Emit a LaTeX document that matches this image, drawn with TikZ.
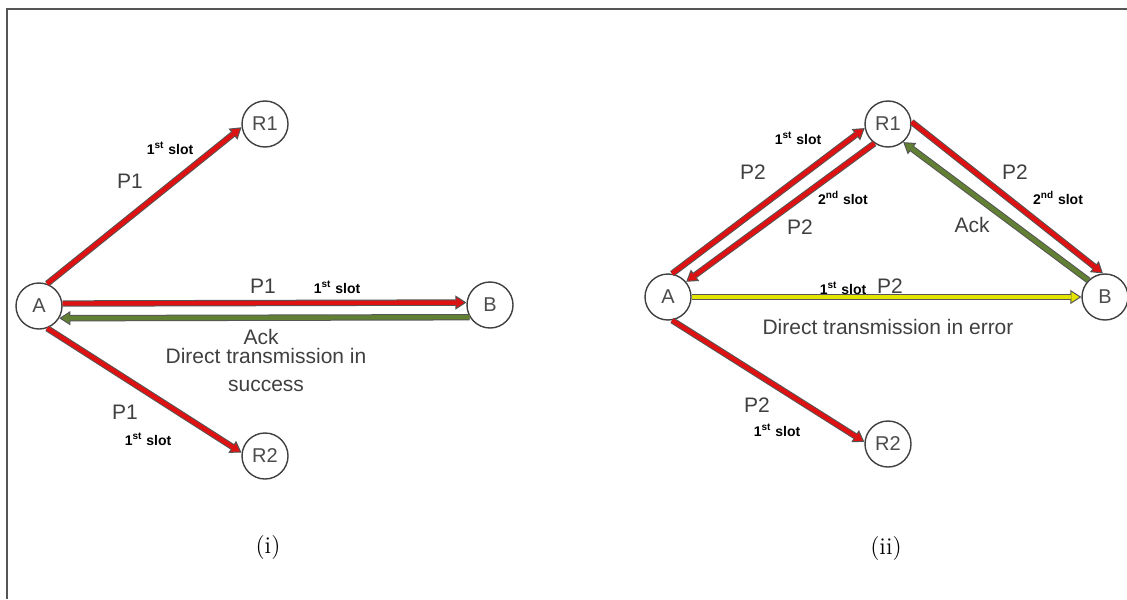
\documentclass[tikz,border=0pt]{standalone}
\usepackage{fontspec}
\setsansfont{Liberation Sans}
\usetikzlibrary{arrows.meta}
\definecolor{pktred}{RGB}{222,18,18}
\definecolor{ackgreen}{RGB}{98,128,52}
\definecolor{erryellow}{RGB}{228,228,0}
\definecolor{rimgray}{RGB}{85,85,85}
\tikzset{
  station/.style={draw=black!75, circle, minimum size=23pt, inner sep=0pt,
    line width=0.7pt, font=\sffamily\fontsize{10}{12}\selectfont, text=black!70},
  pktlabel/.style={font=\sffamily\fontsize{10.5}{12}\selectfont, text=black!75, inner sep=0pt},
  slotlabel/.style={font=\sffamily\bfseries\fontsize{7}{8}\selectfont, inner sep=0pt},
  caption/.style={font=\fontsize{12}{14}\selectfont, inner sep=0pt},
  linkarrow/.style={draw=rimgray, line width=3.2pt,
    -{Triangle[length=5.5pt,width=7pt,fill=#1,line width=0.5pt]},
    postaction={draw=#1, line width=2.2pt, arrows=-, shorten >=5pt}}
}

\begin{document}
\begin{tikzpicture}[x=0.5pt, y=-0.5pt]
    \fill[white] (0,0) rectangle (1127,599);
    \useasboundingbox (0,0) rectangle (1127,599);
    \draw[rimgray, line width=0.7pt] (1127,9) -- (7,9) -- (7,599);

    % (i) direct transmission in success
    \node[station] (a1) at (39,306) {A};
    \node[station] (r11) at (265,124) {R1};
    \node[station] (b1) at (490,305) {B};
    \node[station] (r21) at (265,456) {R2};
    \draw[linkarrow=pktred] (a1.70) -- (r11.188);
    \draw[linkarrow=pktred] (a1.6) -- (b1.174);
    \draw[linkarrow=ackgreen] (b1.211) -- (a1.-31);
    \draw[linkarrow=pktred] (a1.-70) -- (r21.172);
    \node[pktlabel] (p1a) at (130,181) {P1};
    \node[slotlabel] (s1a) at (170,148) {1\textsuperscript{st} slot};
    \node[pktlabel] (p1b) at (263,286) {P1};
    \node[slotlabel] (s1b) at (337,287) {1\textsuperscript{st} slot};
    \node[pktlabel] (ack1) at (261,337) {Ack};
    \node[pktlabel, align=center] (ok1) at (266,370) {Direct transmission in\\[2pt]success};
    \node[pktlabel] (p1c) at (125,412) {P1};
    \node[slotlabel] (s1c) at (148,439) {1\textsuperscript{st} slot};
    \node[caption] (cap1) at (268,548) {(i)};

    % (ii) direct transmission in error
    \node[station] (a2) at (668,297) {A};
    \node[station] (r12) at (888,124) {R1};
    \node[station] (b2) at (1105,297) {B};
    \node[station] (r22) at (888,444) {R2};
    \draw[linkarrow=pktred] (a2.80) -- (r12.190);
    \draw[linkarrow=pktred] (r12.235) -- (a2.40);
    \draw[linkarrow=pktred] (r12.5) -- (b2.95);
    \draw[linkarrow=ackgreen] (b2.135) -- (r12.-50);
    \draw[linkarrow=erryellow] (a2.0) -- (b2.180);
    \draw[linkarrow=pktred] (a2.-80) -- (r22.175);
    \node[slotlabel] (s2a) at (798,138) {1\textsuperscript{st} slot};
    \node[pktlabel] (p2a) at (753,172) {P2};
    \node[slotlabel] (s2b) at (843,198) {2\textsuperscript{nd} slot};
    \node[pktlabel] (p2b) at (800,227) {P2};
    \node[pktlabel] (p2c) at (1015,172) {P2};
    \node[slotlabel] (s2c) at (1058,198) {2\textsuperscript{nd} slot};
    \node[pktlabel] (ack2) at (972,225) {Ack};
    \node[slotlabel] (s2d) at (843,288) {1\textsuperscript{st} slot};
    \node[pktlabel] (p2d) at (890,286) {P2};
    \node[pktlabel] (err2) at (888,327) {Direct transmission in error};
    \node[pktlabel] (p2e) at (757,405) {P2};
    \node[slotlabel] (s2e) at (777,430) {1\textsuperscript{st} slot};
    \node[caption] (cap2) at (886,549) {(ii)};
\end{tikzpicture}
\end{document}
